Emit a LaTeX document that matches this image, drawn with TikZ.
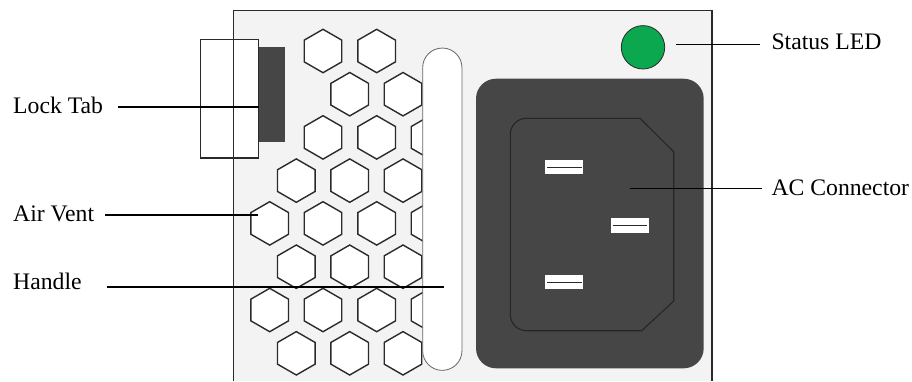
\documentclass[tikz,border=0pt]{standalone}
\usepackage{fontspec}
\setmainfont{Liberation Serif}
\usepackage{xcolor}
\usetikzlibrary{shapes.geometric,calc}
\definecolor{panelgray}{HTML}{F3F3F3}
\definecolor{blockgray}{HTML}{464646}
\definecolor{ledgreen}{HTML}{0BA84F}
\definecolor{edgegray}{HTML}{2B2A29}

\begin{document}
\begin{tikzpicture}[
    x=1pt, y=-1pt,
    vent/.style={regular polygon, regular polygon sides=6, shape border rotate=90, draw=edgegray, fill=white, line width=1.4pt, minimum size=43.4pt, inner sep=0pt},
    pin/.style={rectangle, fill=white, minimum width=38pt, minimum height=14.4pt, inner sep=0pt},
    tag/.style={anchor=west, inner sep=0pt, text depth=0pt, font=\fontsize{23.7}{28}\selectfont},
    leader/.style={black, line width=1.5pt}
]
    \useasboundingbox (0,0) rectangle (912,381);

    % panel
    \fill[panelgray] (233.7,10.7) rectangle (712,381);

    % lock tab
    \node[rectangle, draw=edgegray, fill=white, line width=1.5pt, minimum width=58pt, minimum height=118.3pt, inner sep=0pt] (tabframe) at (229.7,98.8) {};
    \node[rectangle, fill=blockgray, minimum width=26.3pt, minimum height=95pt, inner sep=0pt] (tabblock) at (271.85,94.5) {};
    \draw[edgegray, line width=1.5pt] (233.7,381) -- (233.7,10.7) -- (712,10.7) -- (712,381);

    % vents
    \foreach \y/\xlist in {51/{323,376.7}, 94.2/{349.7,403}, 137.4/{323,376.7,430}, 180.6/{296.3,349.7,403}, 223.4/{269.7,323,376.7,430}, 266.7/{296.3,349.7,403}, 310/{269.7,323,376.7,430}, 353.3/{296.3,349.7,403}}
        \foreach \x in \xlist
            \node[vent] (vent-\x-\y) at (\x,\y) {};

    % handle
    \node[rectangle, draw=black!60, fill=white, line width=0.8pt, rounded corners=19.6pt, minimum width=39.3pt, minimum height=322.3pt, inner sep=0pt] (grip) at (442.3,209.2) {};

    % led
    \node[circle, draw=edgegray, fill=ledgreen, line width=0.8pt, minimum size=43.4pt, inner sep=0pt] (led) at (643,47.3) {};

    % ac connector
    \node[rectangle, fill=blockgray, rounded corners=20pt, minimum width=227.7pt, minimum height=289.6pt, inner sep=0pt] (acbody) at (589.85,223.5) {};
    \draw[black!85, line width=1.1pt] (640,118.3) [rounded corners=16pt] -- (510.3,118.3) -- (510.3,330.7) [sharp corners] -- (641.7,330.7) -- (673.7,301) -- (673.7,151.7) -- cycle;
    \foreach \n/\x/\y in {a/564.3/167.1, b/629.7/225.5, c/564.3/282.2} {
        \node[pin] (pin\n) at (\x,\y) {};
        \draw[edgegray, line width=0.9pt, shorten <=2pt, shorten >=2pt] (pin\n.west) -- (pin\n.east);
    }

    % labels
    \node[tag, text height=12.6pt] (locktab) at (13,107) {Lock Tab};
    \node[tag, text height=12pt] (airvent) at (13,215) {Air Vent};
    \node[tag, text height=4pt] (handle) at (13,287) {Handle};
    \node[tag, text height=8.6pt] (statusled) at (771.3,44.7) {Status LED};
    \node[tag, text height=12.6pt] (acconn) at (771.3,188.7) {AC Connector};

    \coordinate (ventpoint) at (257.7,215);
    \coordinate (grippoint) at (444,287);
    \coordinate (acpoint) at (630,188.7);

    \draw[leader, shorten <=15pt] (locktab.east) -- (locktab.east -| tabblock.west);
    \draw[leader, shorten <=11pt] (airvent.east) -- (ventpoint);
    \draw[leader, shorten <=25pt] (handle.east) -- (grippoint);
    \draw[leader, shorten <=11pt, shorten >=11pt] (statusled.west) -- (statusled.west -| led.east);
    \draw[leader, shorten <=9pt] (acconn.west) -- (acpoint);
\end{tikzpicture}
\end{document}
